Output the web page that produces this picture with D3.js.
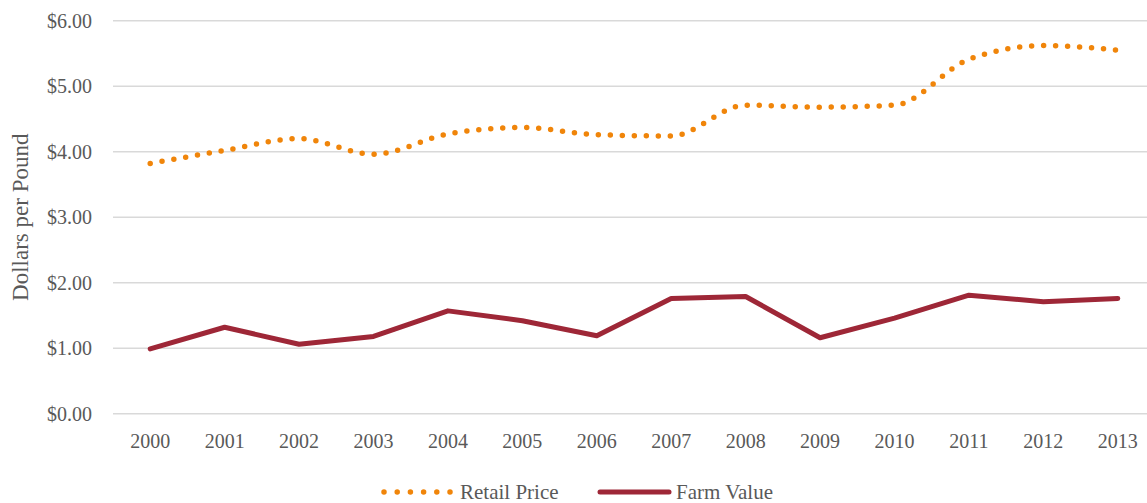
<!DOCTYPE html>
<html>
<head>
<meta charset="utf-8">
<script src="https://cdn.jsdelivr.net/npm/d3@7"></script>
<style>
  html, body { margin: 0; padding: 0; background: #fff; }
  svg { display: block; font-family: "Liberation Serif", "DejaVu Serif", serif; }
</style>
</head>
<body>
<div id="chart"></div>
<script>
// 数据
const years = ["2000", "2001", "2002", "2003", "2004", "2005", "2006", "2007", "2008", "2009", "2010", "2011", "2012", "2013"];
const retailPrice = [3.82, 4.02, 4.20, 3.96, 4.27, 4.37, 4.26, 4.24, 4.71, 4.68, 4.71, 5.41, 5.62, 5.55];
const farmValue = [0.99, 1.32, 1.06, 1.18, 1.57, 1.42, 1.19, 1.76, 1.79, 1.16, 1.46, 1.81, 1.71, 1.76];
const yTicks = [0, 1, 2, 3, 4, 5, 6];

const width = 1147, height = 503;
const margin = { left: 113, top: 20, bottom: 90 };

const svg = d3.select("#chart").append("svg")
  .attr("width", width)
  .attr("height", height);

// x 比例尺（类别居中）
const x = d3.scalePoint()
  .domain(years)
  .range([margin.left, 1155])
  .padding(0.5);

const y = d3.scaleLinear()
  .domain([0, 6])
  .range([413.7, 20.7]);

// 网格线
svg.append("g")
  .selectAll("line")
  .data(yTicks)
  .enter().append("line")
  .attr("x1", margin.left)
  .attr("x2", width)
  .attr("y1", d => y(d))
  .attr("y2", d => y(d))
  .style("stroke", "#d9d9d9")
  .style("stroke-width", 1.5);

// y 轴刻度
svg.append("g")
  .selectAll("text")
  .data(yTicks)
  .enter().append("text")
  .attr("x", 92)
  .attr("y", d => y(d))
  .attr("dy", "0.35em")
  .attr("text-anchor", "end")
  .style("font-size", "20px")
  .style("fill", "#595959")
  .text(d => d3.format("$.2f")(d));

// x 轴刻度
svg.append("g")
  .selectAll("text")
  .data(years)
  .enter().append("text")
  .attr("x", d => x(d))
  .attr("y", 448)
  .attr("text-anchor", "middle")
  .style("font-size", "20px")
  .style("fill", "#595959")
  .text(d => d);

// y 轴标题
svg.append("text")
  .attr("transform", `translate(28, ${(y(0) + y(6)) / 2}) rotate(-90)`)
  .attr("text-anchor", "middle")
  .style("font-size", "23px")
  .style("fill", "#595959")
  .text("Dollars per Pound");

// 零售价（平滑点线）
const retailLine = d3.line()
  .x((d, i) => x(years[i]))
  .y(d => y(d))
  .curve(d3.curveMonotoneX);

svg.append("path")
  .datum(retailPrice)
  .attr("d", retailLine)
  .style("fill", "none")
  .style("stroke", "#F0850A")
  .style("stroke-width", 5.5)
  .style("stroke-linecap", "round")
  .style("stroke-dasharray", "0,12");

// 农场价值（折线）
const farmLine = d3.line()
  .x((d, i) => x(years[i]))
  .y(d => y(d));

svg.append("path")
  .datum(farmValue)
  .attr("d", farmLine)
  .style("fill", "none")
  .style("stroke", "#9E2737")
  .style("stroke-width", 5)
  .style("stroke-linecap", "round")
  .style("stroke-linejoin", "round");

// 图例
const legend = svg.append("g");
legend.append("line")
  .attr("x1", 384).attr("x2", 450)
  .attr("y1", 492).attr("y2", 492)
  .style("stroke", "#F0850A")
  .style("stroke-width", 5.5)
  .style("stroke-linecap", "round")
  .style("stroke-dasharray", "0,13.2");
legend.append("text")
  .attr("x", 460).attr("y", 499)
  .style("font-size", "21px")
  .style("fill", "#595959")
  .text("Retail Price");
legend.append("line")
  .attr("x1", 600).attr("x2", 669)
  .attr("y1", 492).attr("y2", 492)
  .style("stroke", "#9E2737")
  .style("stroke-width", 5)
  .style("stroke-linecap", "round");
legend.append("text")
  .attr("x", 676).attr("y", 499)
  .style("font-size", "21px")
  .style("fill", "#595959")
  .text("Farm Value");
</script>
</body>
</html>
